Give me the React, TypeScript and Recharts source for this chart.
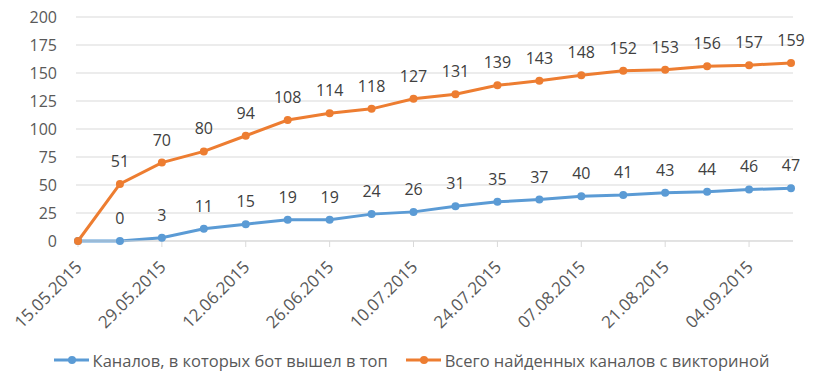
import React from 'react';
import { LineChart, Line, XAxis, YAxis, CartesianGrid, Legend, LabelList } from 'recharts';

const dates = [
  '15.05.2015', '22.05.2015', '29.05.2015', '05.06.2015', '12.06.2015', '19.06.2015',
  '26.06.2015', '03.07.2015', '10.07.2015', '17.07.2015', '24.07.2015', '31.07.2015',
  '07.08.2015', '14.08.2015', '21.08.2015', '28.08.2015', '04.09.2015', '11.09.2015',
];
const botTop = [0, 0, 3, 11, 15, 19, 19, 24, 26, 31, 35, 37, 40, 41, 43, 44, 46, 47];
const totalFound = [0, 51, 70, 80, 94, 108, 114, 118, 127, 131, 139, 143, 148, 152, 153, 156, 157, 159];
const yTicks = [0, 25, 50, 75, 100, 125, 150, 175, 200];
const nameBot = 'Каналов, в которых бот вышел в топ';
const nameTotal = 'Всего найденных каналов с викториной';

const BLUE = '#5b9bd5';
const ORANGE = '#ed7d31';
const FONT = '"Open Sans", sans-serif';

const data = dates.map((d, i) => ({
  date: d,
  bot: botTop[i],
  total: totalFound[i],
  botLabel: i === 0 ? null : botTop[i],
  totalLabel: i === 0 ? null : totalFound[i],
}));

const DateTick = (props: any) => {
  const { x, y, payload } = props;
  const ax = x + 5;
  const ay = y + 19;
  return (
    <text
      x={ax}
      y={ay}
      textAnchor="end"
      transform={`rotate(-45, ${ax}, ${ay})`}
      fill="#595959"
      fontSize={17}
      fontFamily={FONT}
    >
      {payload.value}
    </text>
  );
};

const LegendContent = () => {
  const item = (color: string, label: string) => (
    <div style={{ display: 'flex', alignItems: 'center', margin: '0 9px' }}>
      <svg width={35} height={10} style={{ marginRight: 4 }}>
        <line x1={0} y1={5} x2={35} y2={5} stroke={color} strokeWidth={3} />
        <circle cx={18} cy={5} r={4} fill={color} />
      </svg>
      <span style={{ color: '#595959', fontSize: 16.5, fontFamily: FONT }}>{label}</span>
    </div>
  );
  return (
    <div style={{ display: 'flex', justifyContent: 'center', height: 30, alignItems: 'center' }}>
      {item(BLUE, nameBot)}
      {item(ORANGE, nameTotal)}
    </div>
  );
};

export default function App() {
  return (
    <div style={{ position: 'absolute', left: 0, top: 0, width: 823, height: 384, background: '#fff' }}>
      <LineChart
        width={823}
        height={384}
        data={data}
        margin={{ top: 17, right: 30, left: 0, bottom: 9 }}
      >
        <CartesianGrid vertical={false} stroke="#d9d9d9" />
        <XAxis
          dataKey="date"
          interval={1}
          padding={{ left: 2, right: 2 }}
          height={104}
          axisLine={{ stroke: '#d9d9d9' }}
          tickLine={{ stroke: '#d9d9d9' }}
          tickSize={6}
          tick={<DateTick />}
        />
        <YAxis
          domain={[0, 200]}
          ticks={yTicks}
          width={76}
          axisLine={false}
          tickLine={false}
          tickSize={0}
          tickMargin={19}
          tick={{ fill: '#595959', fontSize: 16, fontFamily: FONT }}
        />
        <Legend
          verticalAlign="bottom"
          content={<LegendContent />}
          wrapperStyle={{ left: 0, width: 823 }}
        />
        <Line
          type="linear"
          dataKey="bot"
          name={nameBot}
          stroke={BLUE}
          strokeWidth={3}
          dot={{ r: 4, fill: BLUE, stroke: BLUE, strokeWidth: 0 }}
          isAnimationActive={false}
        >
          <LabelList dataKey="botLabel" position="top" offset={17} fill="#404040" fontSize={16} fontFamily={FONT} />
        </Line>
        <Line
          type="linear"
          dataKey="total"
          name={nameTotal}
          stroke={ORANGE}
          strokeWidth={3}
          dot={{ r: 4, fill: ORANGE, stroke: ORANGE, strokeWidth: 0 }}
          isAnimationActive={false}
        >
          <LabelList dataKey="totalLabel" position="top" offset={17} fill="#404040" fontSize={16} fontFamily={FONT} />
        </Line>
      </LineChart>
    </div>
  );
}
